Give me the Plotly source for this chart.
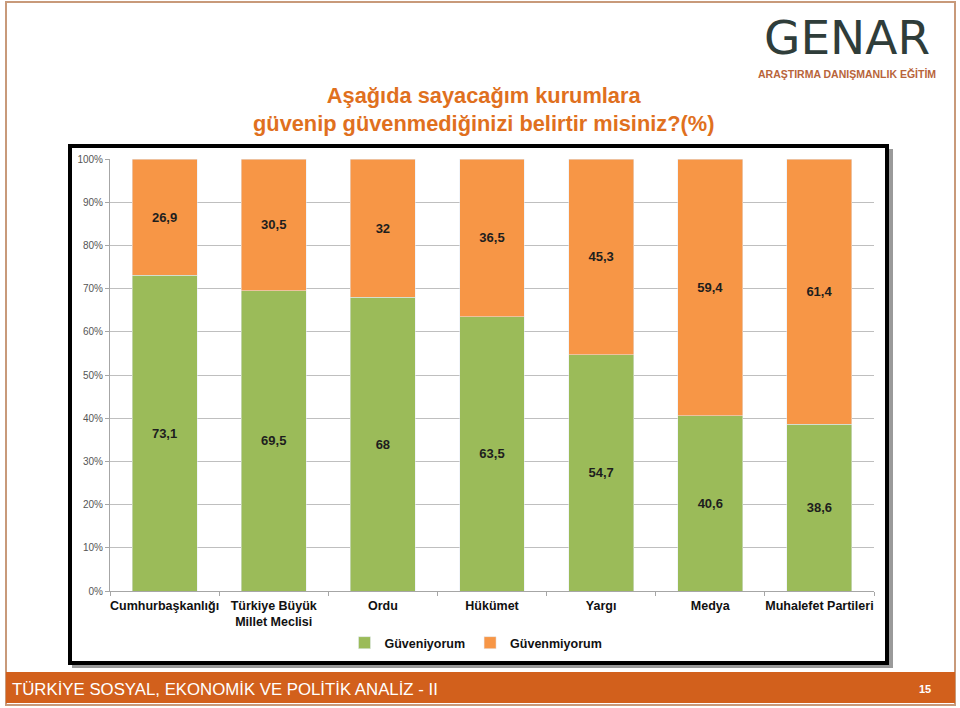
import plotly.graph_objects as go

categories = ["Cumhurbaşkanlığı", "Türkiye Büyük<br>Millet Meclisi", "Ordu", "Hükümet",
              "Yargı", "Medya", "Muhalefet Partileri"]
guveniyorum = [73.1, 69.5, 68, 63.5, 54.7, 40.6, 38.6]
guvenmiyorum = [26.9, 30.5, 32, 36.5, 45.3, 59.4, 61.4]
series_names = ["Güveniyorum", "Güvenmiyorum"]
title_lines = ["Aşağıda sayacağım kurumlara", "güvenip güvenmediğinizi belirtir misiniz?(%)"]
footer_text = "TÜRKİYE SOSYAL, EKONOMİK VE POLİTİK ANALİZ - II"
page_no = "15"
logo_name = "GENAR"
logo_sub = "ARAŞTIRMA DANIŞMANLIK EĞİTİM"

W, H = 960, 708
GREEN = "#9BBB59"
ORANGE = "#F79646"
FONT = "Liberation Sans, Arial, sans-serif"


def fmt(v):
    s = ("%g" % v).replace(".", ",")
    return "<b>" + s + "</b>"


def px(x):
    return x / W


def py(y):
    return 1 - y / H


fig = go.Figure()
fig.add_trace(go.Bar(
    x=categories, y=guveniyorum, name="<b>" + series_names[0] + "</b>", marker_color=GREEN,
    text=[fmt(v) for v in guveniyorum], textposition="inside",
    insidetextanchor="middle", textangle=0,
    textfont=dict(size=13, color="#1e1e1e", family=FONT),
))
fig.add_trace(go.Bar(
    x=categories, y=guvenmiyorum, name="<b>" + series_names[1] + "</b>", marker_color=ORANGE,
    text=[fmt(v) for v in guvenmiyorum], textposition="inside",
    insidetextanchor="middle", textangle=0,
    textfont=dict(size=13, color="#1e1e1e", family=FONT),
))

shapes = [
    # slide border
    dict(type="rect", xref="paper", yref="paper", x0=px(6), x1=px(955), y0=py(705), y1=py(2),
         line=dict(color="#C89A7A", width=2), fillcolor="white", layer="below"),
    # footer band
    dict(type="rect", xref="paper", yref="paper", x0=px(6), x1=px(955), y0=py(703), y1=py(672),
         line=dict(width=0), fillcolor="#D2601C", layer="below"),
    # shadow of chart box
    dict(type="rect", xref="paper", yref="paper", x0=px(72), x1=px(893), y0=py(668), y1=py(149),
         line=dict(width=0), fillcolor="#9a9a9a", layer="below"),
    # chart box
    dict(type="rect", xref="paper", yref="paper", x0=px(70), x1=px(887), y0=py(663), y1=py(146),
         line=dict(color="black", width=4), fillcolor="white", layer="below"),
]

annotations = [
    dict(text="<b>" + title_lines[0] + "<br>" + title_lines[1] + "</b>", x=px(483), y=py(110),
         xref="paper", yref="paper", showarrow=False, xanchor="center", yanchor="middle",
         font=dict(size=21.8, color="#E0701E", family=FONT), align="center"),
    dict(text=footer_text, x=px(10), y=py(689), xref="paper", yref="paper", showarrow=False,
         xanchor="left", yanchor="middle", font=dict(size=16.8, color="white", family=FONT)),
    dict(text="<b>" + page_no + "</b>", x=px(925), y=py(689), xref="paper", yref="paper",
         showarrow=False, xanchor="center", yanchor="middle",
         font=dict(size=11, color="white", family=FONT)),
    dict(text=logo_name, x=px(847), y=py(66), xref="paper", yref="paper", showarrow=False,
         xanchor="center", yanchor="bottom", borderpad=0,
         font=dict(size=47, color="#2F3D3A", family="DejaVu Sans, sans-serif")),
    dict(text="<b>" + logo_sub + "</b>", x=px(847), y=py(67), xref="paper", yref="paper",
         showarrow=False, xanchor="center", yanchor="top", borderpad=0,
         font=dict(size=10.5, color="#B8643A", family=FONT)),
]

fig.update_layout(
    width=W, height=H,
    margin=dict(l=0, r=0, t=0, b=0, autoexpand=False),
    paper_bgcolor="white", plot_bgcolor="rgba(0,0,0,0)",
    barmode="stack", bargap=0.405,
    font=dict(family=FONT),
    shapes=shapes, annotations=annotations,
    showlegend=True,
    legend=dict(orientation="h", x=px(476), y=py(643), xanchor="center", yanchor="middle",
                traceorder="normal", font=dict(size=12.5, color="#111", family=FONT),
                bgcolor="rgba(0,0,0,0)", itemwidth=30),
    uniformtext=dict(minsize=8, mode="show"),
)
fig.update_xaxes(
    domain=[px(110), px(874)], automargin=False, tickangle=0,
    tickmode="array", tickvals=categories,
    ticktext=["<b>" + c + "</b>" for c in categories],
    tickfont=dict(size=12.5, color="#111", family=FONT), ticklabelstandoff=3,
    showline=True, linecolor="#A6A6A6", linewidth=1,
    ticks="outside", tickson="boundaries", ticklen=4, tickcolor="#A6A6A6",
    showgrid=False,
)
fig.update_yaxes(
    domain=[py(591), py(159)], automargin=False,
    range=[0, 100], dtick=10, ticksuffix="%",
    tickfont=dict(size=10, color="#555", family=FONT),
    showline=True, linecolor="#A6A6A6", linewidth=1,
    ticks="outside", ticklen=4, tickcolor="#A6A6A6",
    showgrid=True, gridcolor="#BFBFBF", gridwidth=1, zeroline=False,
)

fig.write_html("out.html")
